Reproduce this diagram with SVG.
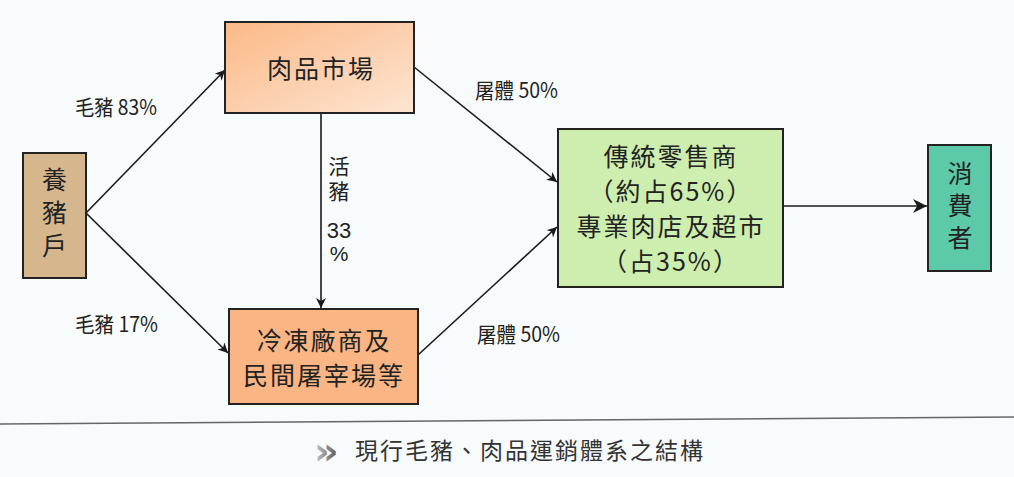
<svg xmlns="http://www.w3.org/2000/svg" width="1014" height="477" viewBox="0 0 1014 477">
<defs>
<marker id="ah" viewBox="0 0 10 10" refX="10" refY="5" markerWidth="10" markerHeight="10" markerUnits="userSpaceOnUse" orient="auto">
<path d="M0,0 L10,5 L0,10 L3,5 Z" fill="#1a1a1a"/>
</marker>
<marker id="ahL" viewBox="0 0 10 10" refX="10" refY="5" markerWidth="14" markerHeight="14" markerUnits="userSpaceOnUse" orient="auto">
<path d="M0,0 L10,5 L0,10 L3,5 Z" fill="#1a1a1a"/>
</marker>
<linearGradient id="gMarket" x1="0" y1="0" x2="1" y2="1">
<stop offset="0" stop-color="#fbb987"/>
<stop offset="0.6" stop-color="#fcd3b4"/>
<stop offset="1" stop-color="#fde6d2"/>
</linearGradient>
<linearGradient id="gCaption" x1="0" y1="0" x2="1" y2="0">
<stop offset="0" stop-color="#c8c8c8"/>
<stop offset="1" stop-color="#555"/>
</linearGradient>
</defs>
<style>
.box{stroke:#222;stroke-width:2}
.t{font-family:"Noto Sans CJK TC","Noto Sans CJK SC",sans-serif;fill:#222;text-anchor:middle}
.big{font-size:25px;letter-spacing:2px}
.lbl{font-size:21px;text-anchor:start}
.v{writing-mode:vertical-rl;text-anchor:start}
.num{font-family:"Liberation Sans",Arial,sans-serif;fill:#222;text-anchor:middle}
.conn{stroke:#1a1a1a;stroke-width:1.6;fill:none}
</style>
<rect width="1014" height="477" fill="#f8fbfb"/>
<line x1="0" y1="424" x2="1014" y2="417" stroke="#666" stroke-width="1.5"/>

<g id="connectors">
<line class="conn" x1="86" y1="213" x2="225" y2="70" marker-end="url(#ah)"/>
<line class="conn" x1="86" y1="213" x2="228" y2="353" marker-end="url(#ah)"/>
<line class="conn" x1="321" y1="113" x2="321" y2="308" marker-end="url(#ah)"/>
<line class="conn" x1="414" y1="67" x2="557" y2="182" marker-end="url(#ah)"/>
<line class="conn" x1="418" y1="355" x2="557" y2="227" marker-end="url(#ah)"/>
<line class="conn" x1="783" y1="206" x2="927" y2="206" marker-end="url(#ahL)"/>
</g>

<g id="labels">
<text class="t lbl" x="75" y="115" textLength="82" lengthAdjust="spacingAndGlyphs">毛豬 83%</text>
<text class="t lbl" x="75" y="332" textLength="83" lengthAdjust="spacingAndGlyphs">毛豬 17%</text>
<text class="t lbl" x="475" y="98" textLength="83" lengthAdjust="spacingAndGlyphs">屠體 50%</text>
<text class="t lbl" x="477" y="342" textLength="83" lengthAdjust="spacingAndGlyphs">屠體 50%</text>
<text class="t v" style="font-size:21px;letter-spacing:4px" x="339" y="156">活豬</text>
<text class="num" style="font-size:22px" x="339" y="238">33</text>
<text class="num" style="font-size:21px" x="339" y="261">%</text>
</g>

<g id="farmer">
<rect class="box" x="23" y="153" width="63" height="125" fill="#d5b68d"/>
<text class="t v" style="font-size:25px;letter-spacing:8px" x="54.5" y="167">養豬戶</text>
</g>

<g id="market">
<rect class="box" x="225" y="22" width="189" height="91" fill="url(#gMarket)"/>
<text class="t big" x="321" y="78">肉品市場</text>
</g>

<g id="frozen">
<rect class="box" x="229" y="309" width="189" height="95" fill="#f9b584"/>
<text class="t big" x="324" y="350">冷凍廠商及</text>
<text class="t big" x="324" y="385">民間屠宰場等</text>
</g>

<g id="retail">
<rect class="box" x="558" y="129" width="225" height="158" fill="#cdeeae"/>
<text class="t big" x="671" y="166">傳統零售商</text>
<text class="t big" x="671" y="201">（約占65%）</text>
<text class="t big" x="671" y="236">專業肉店及超市</text>
<text class="t big" x="671" y="271">（占35%）</text>
</g>

<g id="consumer">
<rect class="box" x="928" y="145" width="63" height="126" fill="#5ccaa8"/>
<text class="t v" style="font-size:25px;letter-spacing:7px" x="960" y="161">消費者</text>
</g>

<g id="caption">
<text x="314" y="464" style="font-family:'DejaVu Sans',sans-serif;font-size:38px;font-weight:bold" fill="url(#gCaption)">»</text>
<text class="t" x="355" y="459" style="font-size:23px;letter-spacing:2px;text-anchor:start;fill:#333">現行毛豬、肉品運銷體系之結構</text>
</g>
</svg>
